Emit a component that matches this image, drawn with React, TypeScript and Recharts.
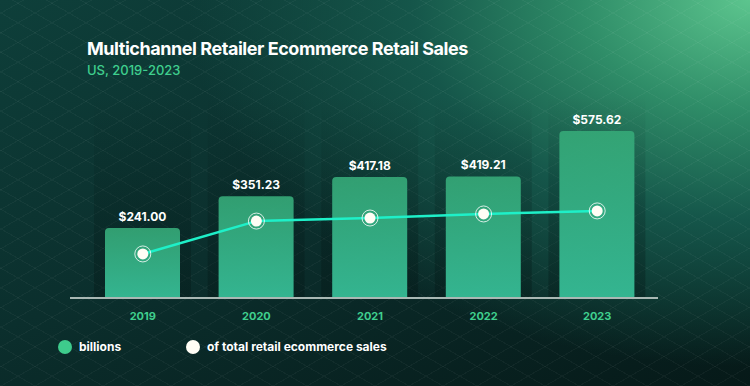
import { ComposedChart, Bar, Line, XAxis, YAxis, LabelList, Legend } from 'recharts';

const years = ['2019', '2020', '2021', '2022', '2023'];
const salesBillions = [241.0, 351.23, 417.18, 419.21, 575.62];
const shareOfTotal = [21.7, 37.9, 39.4, 41.4, 42.9];

const data = years.map((year, i) => ({
    year,
    billions: salesBillions[i],
    share: shareOfTotal[i]
}));

const FONT = 'Inter, "Noto Sans", sans-serif';
const GREEN = '#3fcf8e';

const bg = [
    'repeating-linear-gradient(30deg, rgba(255,255,255,0.035) 0px, rgba(255,255,255,0.035) 1px, transparent 1px, transparent 17px)',
    'repeating-linear-gradient(-30deg, rgba(255,255,255,0.035) 0px, rgba(255,255,255,0.035) 1px, transparent 1px, transparent 17px)',
    'radial-gradient(ellipse 75% 95% at 100% 0%, #5cc58e 0%, #2f8d68 30%, #15564a 60%, rgba(12,50,46,0) 100%)',
    'linear-gradient(160deg, #0e3f3a 0%, #0b2f2d 50%, #061918 100%)'
].join(', ');

function Shadow(props: any) {
    const { x, y, width, height } = props;
    return <rect x={x - 11} y={y} width={width + 22} height={height} fill="url(#shadowGrad)" />;
}

function Dot(props: any) {
    const { cx, cy } = props;
    if (cx == null || cy == null) return null;
    return (
        <g>
            <circle cx={cx} cy={cy} r={8} fill="none" stroke="#ffffff" strokeOpacity={0.8} strokeWidth={1} />
            <circle cx={cx} cy={cy} r={5.5} fill="#fffdf5" />
        </g>
    );
}

function LegendContent() {
    const item = (color: string, text: string, left: number) => (
        <div style={{ position: 'absolute', left, top: 0, display: 'flex', alignItems: 'center' }}>
            <span style={{ width: 14, height: 14, borderRadius: 7, background: color, display: 'inline-block' }} />
            <span style={{ marginLeft: 7, color: '#ffffff', fontWeight: 700, fontSize: 12, fontFamily: FONT }}>{text}</span>
        </div>
    );
    return (
        <div style={{ position: 'relative', height: 16 }}>
            {item('#3ecb8c', 'billions', 0)}
            {item('#fffdf5', 'of total retail ecommerce sales', 128)}
        </div>
    );
}

export default function App() {
    return (
        <div style={{ position: 'fixed', left: 0, top: 0, width: 750, height: 386, background: bg, overflow: 'hidden' }}>
            <div style={{ position: 'absolute', left: 87, top: 38, color: '#ffffff', fontFamily: FONT, fontWeight: 700, fontSize: 18, letterSpacing: -0.45 }}>
                Multichannel Retailer Ecommerce Retail Sales
            </div>
            <div style={{ position: 'absolute', left: 87, top: 62, color: GREEN, fontFamily: FONT, fontWeight: 500, fontSize: 13 }}>
                US, 2019-2023
            </div>
            <ComposedChart width={750} height={386} data={data}
                margin={{ top: 95, right: 92, left: 70, bottom: 42 }}>
                <defs>
                    <linearGradient id="barGrad" x1="0" y1="0" x2="0" y2="1">
                        <stop offset="0%" stopColor="#35a877" stopOpacity={0.92} />
                        <stop offset="100%" stopColor="#36bc96" stopOpacity={0.95} />
                    </linearGradient>
                    <linearGradient id="shadowGrad" x1="0" y1="0" x2="0" y2="1">
                        <stop offset="0%" stopColor="#031413" stopOpacity={0} />
                        <stop offset="100%" stopColor="#031413" stopOpacity={0.35} />
                    </linearGradient>
                </defs>
                <XAxis dataKey="year" height={30} padding={{ left: 16, right: 4 }}
                    axisLine={{ stroke: '#a9b8b4', strokeWidth: 2 }} tickLine={false}
                    tick={{ fill: GREEN, fontSize: 11, fontWeight: 700, fontFamily: FONT }} tickMargin={8} />
                <YAxis yAxisId="bil" domain={[0, 700]} hide />
                <YAxis yAxisId="pct" orientation="right" domain={[0, 100]} hide />
                <Bar yAxisId="bil" dataKey="billions" barSize={75} fill="url(#barGrad)" radius={[4, 4, 0, 0]}
                    background={<Shadow />} isAnimationActive={false}>
                    <LabelList dataKey="billions" position="top" offset={7}
                        formatter={(v: any) => `$${Number(v).toFixed(2)}`}
                        style={{ fill: '#ffffff', fontSize: 12, fontWeight: 700, fontFamily: FONT }} />
                </Bar>
                <Line yAxisId="pct" dataKey="share" stroke="#1ef0c8" strokeWidth={2.5} type="linear"
                    dot={<Dot />} activeDot={false} isAnimationActive={false} />
                <Legend content={<LegendContent />}
                    wrapperStyle={{ position: 'absolute', left: 58, top: 339, width: 400, bottom: 'auto' }} />
            </ComposedChart>
        </div>
    );
}
